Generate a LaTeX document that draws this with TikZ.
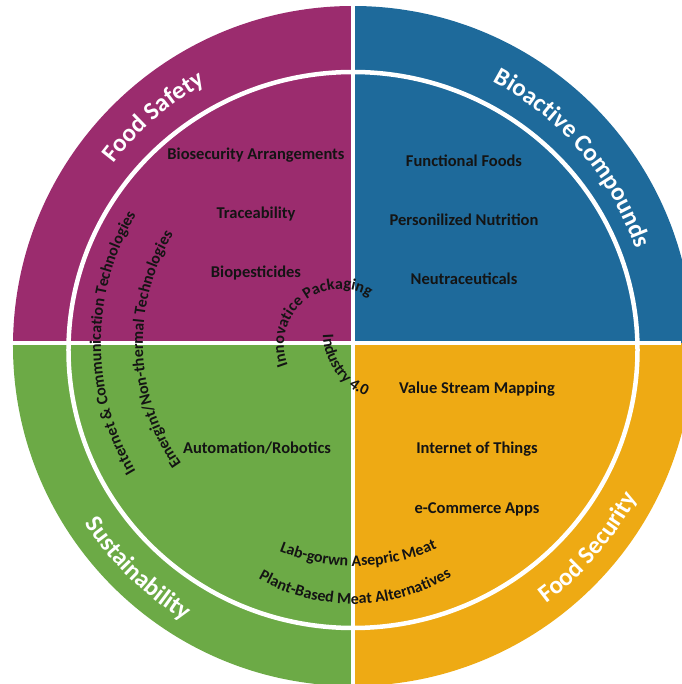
\documentclass[tikz,border=0pt]{standalone}
\usepackage{fontspec}
\setmainfont{Carlito}
\usepackage{xcolor}
\usetikzlibrary{decorations.text}

\definecolor{safetyc}{HTML}{9B2C6E}
\definecolor{bioc}{HTML}{1E6A9B}
\definecolor{sustc}{HTML}{6CAA46}
\definecolor{securc}{HTML}{EEAA14}
\definecolor{inkc}{HTML}{141414}

\begin{document}
\begin{tikzpicture}[x=1pt,y=1pt,
  lbl/.style={font=\bfseries\fontsize{16.5}{19}\selectfont,text=inkc,inner sep=0pt},
  sep/.style={draw=white,line width=4.5pt},
  arctxt/.style={decorate,decoration={text along path,text align=center,text={#1}}}]
\useasboundingbox[fill=white] (-353,-341) rectangle (328,343);
\coordinate (O) at (0,0);
\coordinate (C) at (0,-3);
\begin{scope}
  \clip (C) circle (340);
  \fill[safetyc] (O) rectangle (-360,360);
  \fill[bioc] (O) rectangle (360,360);
  \fill[sustc] (O) rectangle (-360,-360);
  \fill[securc] (O) rectangle (360,-360);
\end{scope}
\draw[sep] (0,-7) ellipse [x radius=284.5,y radius=278];
\draw[sep] (0,343) -- (0,-341);
\draw[sep] (-353,0) -- (328,0);
% outer ring titles
\path[arctxt={|\bfseries\fontsize{25}{30}\selectfont\color{white}|Food Safety}] (C) ++(191:301) arc[start angle=191,end angle=71,radius=301];
\path[arctxt={|\bfseries\fontsize{25}{30}\selectfont\color{white}|Bioactive Compounds}] (C) ++(110.5:299) arc[start angle=110.5,end angle=-29.5,radius=299];
\path[arctxt={|\bfseries\fontsize{25}{30}\selectfont\color{white}|Sustainability}] (C) ++(156:322) arc[start angle=156,end angle=296,radius=322];
\path[arctxt={|\bfseries\fontsize{25}{30}\selectfont\color{white}|Food Security}] (C) ++(249.4:322) arc[start angle=249.4,end angle=389.4,radius=322];
% quadrant labels
\foreach \t [count=\i] in {Biosecurity Arrangements,Traceability,Biopesticides}
  \node[lbl] (fs\i) at (-97,{247-59*\i}) {\t};
\foreach \t [count=\i] in {Functional Foods,Personilized Nutrition,Neutraceuticals}
  \node[lbl] (bc\i) at (111,{241-59*\i}) {\t};
\foreach \t [count=\i] in {Value Stream Mapping,Internet of Things,e-Commerce Apps}
  \node[lbl] (fsec\i) at (124,{14-60*\i}) {\t};
\node[lbl] (su1) at (-96,-105) {Automation/Robotics};
% curved labels
\path[arctxt={|\bfseries\fontsize{16}{19}\selectfont\color{inkc}|Internet {\&} Communication Technologies}] (O) ++(260:252) arc[start angle=260,end angle=100,radius=252];
\path[arctxt={|\bfseries\fontsize{16}{19}\selectfont\color{inkc}|Emergint/Non-thermal Technologies}] (O) ++(262:210) arc[start angle=262,end angle=102,radius=210];
\path[arctxt={|\bfseries\fontsize{16}{19}\selectfont\color{inkc}|Innovatice Packaging}] (-13,-2) ++(280:56) arc[start angle=280,end angle=-20,radius=56];
\path[arctxt={|\bfseries\fontsize{16}{19}\selectfont\color{inkc}|Industry 4.0}] (38,10) ++(125:68) arc[start angle=125,end angle=305,radius=68];
\path[arctxt={|\bfseries\fontsize{16}{19}\selectfont\color{inkc}|Lab-gorwn Asepric Meat}] (2,-20) ++(191:203) arc[start angle=191,end angle=351,radius=203];
\path[arctxt={|\bfseries\fontsize{16}{19}\selectfont\color{inkc}|Plant-Based Meat Alternatives}] (0,-70) ++(190.7:191) arc[start angle=190.7,end angle=350.7,radius=191];
\end{tikzpicture}
\end{document}
